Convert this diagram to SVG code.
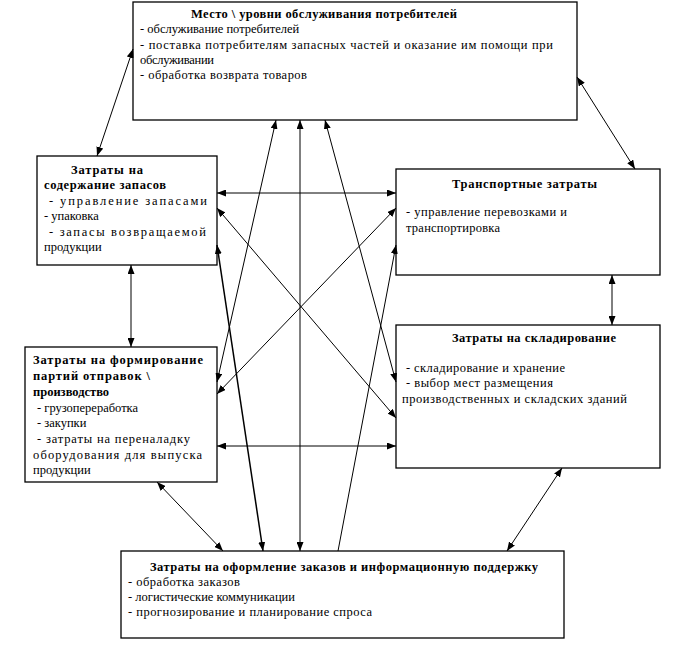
<svg xmlns="http://www.w3.org/2000/svg" width="685" height="650" viewBox="0 0 685 650">
<defs>
<marker id="ah" viewBox="0 0 9 7" refX="9" refY="3.5" markerWidth="9" markerHeight="7" markerUnits="userSpaceOnUse" orient="auto-start-reverse">
<path d="M0,0 L9,3.5 L0,7 Z" fill="#000"/>
</marker>
<style>
.box{fill:#fff;stroke:#000;stroke-width:1.3}
text{font-family:"Liberation Serif","Times New Roman","DejaVu Serif",serif;font-size:12.5px;fill:#000}
.b{font-weight:bold}
.c{stroke:#000;stroke-width:1;fill:none}
.d{marker-start:url(#ah);marker-end:url(#ah)}
</style>
</defs>
<rect width="685" height="650" fill="#fff"/>
<g id="top">
<rect class="box" x="133" y="2" width="444" height="118"/>
<text class="b" x="191" y="18" textLength="266" lengthAdjust="spacing">Место \ уровни обслуживания потребителей</text>
<text x="140" y="33">- обслуживание потребителей</text>
<text x="140" y="49" textLength="413" lengthAdjust="spacing">- поставка потребителям запасных частей и оказание им помощи при</text>
<text x="140" y="64" textLength="74" lengthAdjust="spacing">обслуживании</text>
<text x="140" y="79" textLength="167" lengthAdjust="spacing">- обработка возврата товаров</text>
</g>
<g id="inventory">
<rect class="box" x="37" y="156" width="180" height="109"/>
<text class="b" x="71" y="174" textLength="72" lengthAdjust="spacing">Затраты на</text>
<text class="b" x="44" y="189" textLength="122" lengthAdjust="spacing">содержание запасов</text>
<text x="49" y="205" textLength="158" lengthAdjust="spacing">- управление запасами</text>
<text x="44" y="220">- упаковка</text>
<text x="49" y="236" textLength="157" lengthAdjust="spacing">- запасы возвращаемой</text>
<text x="44" y="251">продукции</text>
</g>
<g id="transport">
<rect class="box" x="396" y="169" width="264" height="106"/>
<text class="b" x="452" y="188" textLength="145" lengthAdjust="spacing">Транспортные затраты</text>
<text x="406" y="216" textLength="161" lengthAdjust="spacing">- управление перевозками и</text>
<text x="406" y="232" textLength="94" lengthAdjust="spacing">транспортировка</text>
</g>
<g id="warehouse">
<rect class="box" x="396" y="325" width="264" height="143"/>
<text class="b" x="452" y="342" textLength="164" lengthAdjust="spacing">Затраты на складирование</text>
<text x="406" y="372" textLength="159" lengthAdjust="spacing">- складирование и хранение</text>
<text x="406" y="387" textLength="147" lengthAdjust="spacing">- выбор мест размещения</text>
<text x="402" y="403" textLength="225" lengthAdjust="spacing">производственных и складских зданий</text>
</g>
<g id="shipping">
<rect class="box" x="25" y="347" width="192" height="135"/>
<text class="b" x="33" y="364" textLength="170" lengthAdjust="spacing">Затраты на формирование</text>
<text class="b" x="33" y="380" textLength="117" lengthAdjust="spacing">партий отправок \</text>
<text class="b" x="33" y="396">производство</text>
<text x="37" y="412">- грузопереработка</text>
<text x="37" y="427">- закупки</text>
<text x="37" y="443" textLength="153" lengthAdjust="spacing">- затраты на переналадку</text>
<text x="33" y="459" textLength="169" lengthAdjust="spacing">оборудования для выпуска</text>
<text x="33" y="474">продукции</text>
</g>
<g id="orders">
<rect class="box" x="121" y="551" width="443" height="87"/>
<text class="b" x="150" y="571" textLength="388" lengthAdjust="spacing">Затраты на оформление заказов и информационную поддержку</text>
<text x="128" y="586" textLength="112" lengthAdjust="spacing">- обработка заказов</text>
<text x="128" y="601" textLength="167" lengthAdjust="spacing">- логистические коммуникации</text>
<text x="128" y="616" textLength="244" lengthAdjust="spacing">- прогнозирование и планирование спроса</text>
</g>
<g id="connectors">
<line class="c d" x1="133" y1="49" x2="97" y2="156"/>
<line class="c d" x1="577" y1="77" x2="635" y2="169"/>
<line class="c d" x1="217" y1="193" x2="396" y2="193"/>
<line class="c d" x1="217" y1="208" x2="396" y2="418"/>
<line class="c d" x1="396" y1="208" x2="217" y2="394"/>
<line class="c d" x1="217" y1="245" x2="263" y2="551" style="stroke-width:1.5"/>
<line class="c" x1="396" y1="245" x2="338" y2="551" style="marker-start:url(#ah)"/>
<line class="c d" x1="276" y1="120" x2="217" y2="382"/>
<line class="c d" x1="300" y1="120" x2="300" y2="551"/>
<line class="c d" x1="325" y1="120" x2="396" y2="382"/>
<line class="c d" x1="131" y1="265" x2="131" y2="347"/>
<line class="c d" x1="217" y1="446" x2="396" y2="446"/>
<line class="c d" x1="157" y1="482" x2="223" y2="551"/>
<line class="c d" x1="562" y1="468" x2="507" y2="551"/>
<line class="c d" x1="612" y1="275" x2="612" y2="325"/>
</g>
</svg>
